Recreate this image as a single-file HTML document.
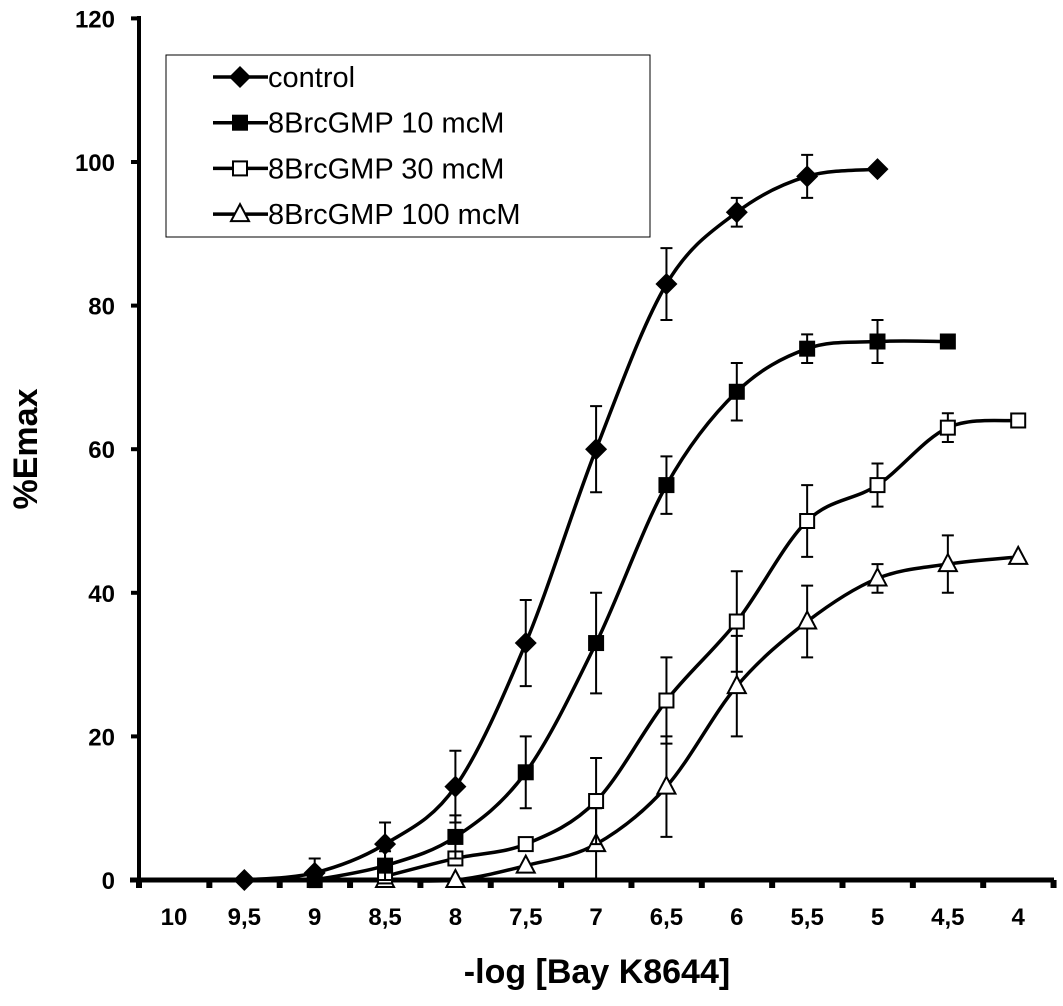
<!DOCTYPE html>
<html><head><meta charset="utf-8"><style>
body{margin:0;background:#fff}
svg{display:block;font-family:"Liberation Sans",Arial,sans-serif}
</style></head><body>
<svg id="chart" width="1063" height="1006" viewBox="0 0 1063 1006" xmlns="http://www.w3.org/2000/svg"></svg>
<script>
const categories=["10","9,5","9","8,5","8","7,5","7","6,5","6","5,5","5","4,5","4"];
const yTicks=[0,20,40,60,80,100,120];
const controlIdx=[1,2,3,4,5,6,7,8,9,10];
const controlVals=[0,1,5,13,33,60,83,93,98,99];
const controlErr=[0,2,3,5,6,6,5,2,3,0];
const b10Idx=[2,3,4,5,6,7,8,9,10,11];
const b10Vals=[0,2,6,15,33,55,68,74,75,75];
const b10Err=[0,2,3,5,7,4,4,2,3,0];
const b30Idx=[3,4,5,6,7,8,9,10,11,12];
const b30Vals=[0.5,3,5,11,25,36,50,55,63,64];
const b30Err=[0,0,0,6,6,7,5,3,2,0];
const b100Idx=[3,4,5,6,7,8,9,10,11,12];
const b100Vals=[0,0,2,5,13,27,36,42,44,45];
const b100Err=[0,0,0,5,7,7,5,2,4,0];
const legendLabels=["control","8BrcGMP 10 mcM","8BrcGMP 30 mcM","8BrcGMP 100 mcM"];

const NS="http://www.w3.org/2000/svg";
const svg=document.getElementById('chart');
function X(i){return 174+i*70.35;}
function Y(v){return 880-v*7.18;}
function el(t,a,p){const e=document.createElementNS(NS,t);for(const k in a)e.setAttribute(k,a[k]);(p||svg).appendChild(e);return e;}

const yAxis=el('line',{x1:139,y1:16,x2:139,y2:882,stroke:'#000','stroke-width':4});


yTicks.forEach(t=>{
 const tk=el('line',{x1:131,y1:Y(t),x2:139,y2:Y(t),stroke:'#000','stroke-width':4});
 
 
 const tx=el('text',{x:115,y:Y(t)+9,'text-anchor':'end','font-size':24,'font-weight':'bold'});
 tx.textContent=t;
 
 
});
const xAxis=el('line',{x1:130,y1:880,x2:1054,y2:880,stroke:'#000','stroke-width':5});


for(let i=0;i<=categories.length;i++){
 const tk=el('line',{x1:X(i)-35,y1:880,x2:X(i)-35,y2:888,stroke:'#000','stroke-width':6});
 
 
}
categories.forEach((c,i)=>{
 const tx=el('text',{x:X(i),y:925,'text-anchor':'middle','font-size':24,'font-weight':'bold'});
 tx.textContent=c;
 
 
});
const yt=el('text',{x:0,y:0,transform:'translate(37,449) rotate(-90)','text-anchor':'middle','font-size':34,'font-weight':'bold'});
yt.textContent='%Emax';


const xt=el('text',{x:597,y:983,'text-anchor':'middle','font-size':34,'font-weight':'bold'});
xt.textContent='-log [Bay K8644]';



function marker(type,x,y,g){
 if(type==='diamond')return el('polygon',{points:`${x},${y-11} ${x+11},${y} ${x},${y+11} ${x-11},${y}`,fill:'#000'},g);
 if(type==='square')return el('rect',{x:x-8,y:y-8,width:16,height:16,fill:'#000'},g);
 if(type==='osquare')return el('rect',{x:x-7,y:y-7,width:14,height:14,fill:'#fff',stroke:'#000','stroke-width':2},g);
 return el('polygon',{points:`${x},${y-10} ${x+9},${y+7} ${x-9},${y+7}`,fill:'#fff',stroke:'#000','stroke-width':2},g);
}
function smooth(pts){
 let d=`M${pts[0][0]},${pts[0][1]}`;
 for(let i=0;i<pts.length-1;i++){
  const p0=pts[i-1]||pts[i],p1=pts[i],p2=pts[i+1],p3=pts[i+2]||p2;
  const c1=[p1[0]+(p2[0]-p0[0])/6,p1[1]+(p2[1]-p0[1])/6];
  const c2=[p2[0]-(p3[0]-p1[0])/6,p2[1]-(p3[1]-p1[1])/6];
  d+=` C${c1[0]},${c1[1]} ${c2[0]},${c2[1]} ${p2[0]},${p2[1]}`;
 }
 return d;
}
function series(name,idx,vals,err,type){
 const g=el('g',{});
 
 
 const pts=idx.map((i,k)=>[X(i),Y(vals[k])]);
 const p=el('path',{d:smooth(pts),fill:'none',stroke:'#000','stroke-width':3.5},g);
 
 
 idx.forEach((i,k)=>{
  if(err[k]>0){
   const x=X(i),y1=Y(vals[k]-err[k]),y2=Y(vals[k]+err[k]);
   const eb=el('path',{d:`M${x},${y1}V${y2}M${x-6},${y1}H${x+6}M${x-6},${y2}H${x+6}`,stroke:'#000','stroke-width':2,fill:'none'},g);
   
   
  }
  const m=marker(type,X(i),Y(vals[k]),g);
  
  
 });
}
series('series-100mcm',b100Idx,b100Vals,b100Err,'tri');
series('series-30mcm',b30Idx,b30Vals,b30Err,'osquare');
series('series-10mcm',b10Idx,b10Vals,b10Err,'square');
series('series-control',controlIdx,controlVals,controlErr,'diamond');

const lg=el('g',{});


el('rect',{x:166,y:55,width:484,height:182,fill:'#fff',stroke:'#000','stroke-width':1},lg);
const types=['diamond','square','osquare','tri'];
legendLabels.forEach((l,i)=>{
 const y=77+i*45.7;
 const ge=el('g',{},lg);
 
 
 el('line',{x1:213,y1:y,x2:268,y2:y,stroke:'#000','stroke-width':3.5},ge);
 marker(types[i],240,y,ge);
 const t=el('text',{x:268,y:y+10,'font-size':29},ge);
 t.textContent=l;
});
</script>
</body></html>
